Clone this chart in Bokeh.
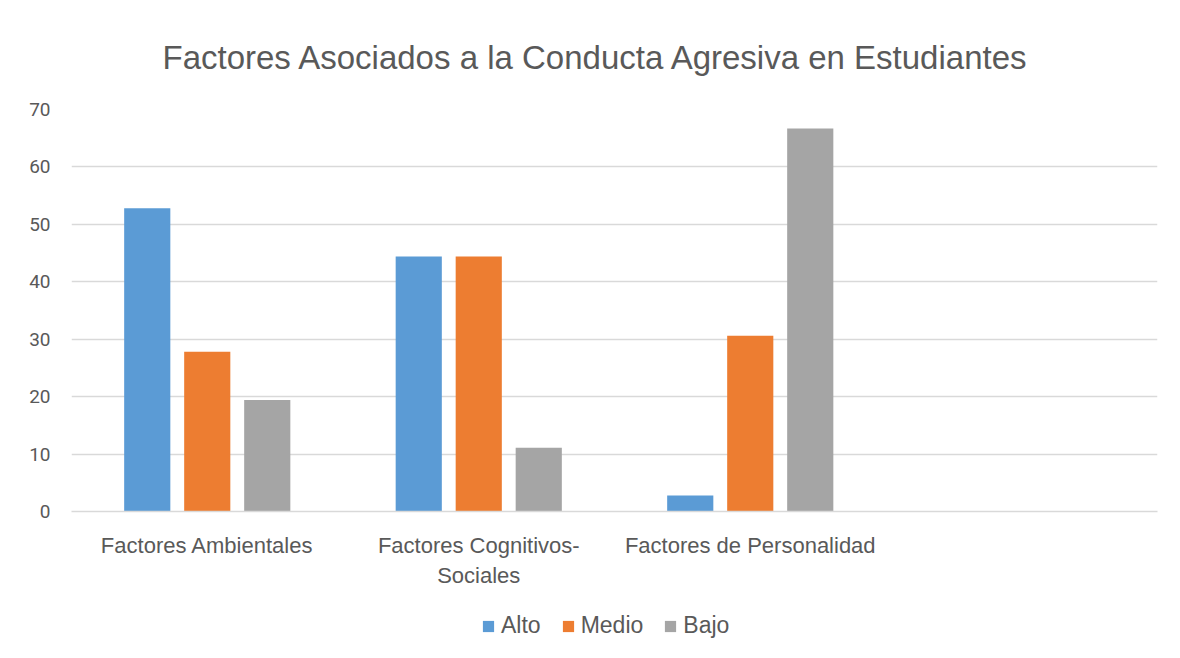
from bokeh.plotting import figure
from bokeh.layouts import column
from bokeh.models import ColumnDataSource, Range1d, FixedTicker, Legend, LegendItem
from bokeh.transform import dodge
from bokeh.embed import file_html
from bokeh.resources import INLINE

categories = ["Factores Ambientales", "Factores Cognitivos-\nSociales", "Factores de Personalidad"]
alto = [52.8, 44.4, 2.8]
medio = [27.8, 44.4, 30.6]
bajo = [19.4, 11.1, 66.7]
series_names = ["Alto", "Medio", "Bajo"]
colors = ["#5B9BD5", "#ED7D31", "#A5A5A5"]
y_ticks = [0, 10, 20, 30, 40, 50, 60, 70]

FONT = "'Liberation Sans', sans-serif"
TXT = "#595959"

src = ColumnDataSource(dict(x=list(range(len(categories))), Alto=alto, Medio=medio, Bajo=bajo))

p = figure(width=1170, height=600, output_backend="svg", toolbar_location=None,
           x_range=Range1d(-0.5, 3.5), y_range=Range1d(0, 70),
           min_border_left=71, min_border_right=13, min_border_top=109, min_border_bottom=89)

p.title.text = "Factores Asociados a la Conducta Agresiva en Estudiantes"
p.title.text_font = FONT
p.title.text_font_size = "33px"
p.title.text_font_style = "normal"
p.title.text_color = TXT
p.title.align = "left"
p.title.offset = 91
p.title.standoff = 68

width = 0.17
offsets = [-0.221, 0.0, 0.221]
for name, col, off in zip(series_names, colors, offsets):
    p.vbar(x=dodge("x", off, range=p.x_range), top=name, width=width, bottom=0,
           source=src, fill_color=col, line_color=None)

p.xaxis.ticker = FixedTicker(ticks=[0, 1, 2])
p.xaxis.major_label_overrides = {i: c for i, c in enumerate(categories)}
p.xaxis.major_label_text_font = FONT
p.xaxis.major_label_text_font_size = "22px"
p.xaxis.major_label_text_color = TXT
p.xaxis.major_label_standoff = 15
p.xaxis.axis_line_color = "#D9D9D9"
p.xaxis.axis_line_width = 1.5
p.xaxis.major_tick_line_color = None
p.xaxis.minor_tick_line_color = None

p.yaxis.ticker = FixedTicker(ticks=y_ticks)
p.yaxis.major_label_text_font = "Roboto"
p.yaxis.major_label_text_font_size = "19px"
p.yaxis.major_label_text_color = TXT
p.yaxis.major_label_standoff = 15
p.yaxis.axis_line_color = None
p.yaxis.major_tick_line_color = None
p.yaxis.minor_tick_line_color = None

p.xgrid.grid_line_color = None
p.ygrid.grid_line_color = "#D9D9D9"
p.ygrid.grid_line_width = 1.5
p.ygrid.ticker = FixedTicker(ticks=y_ticks)

p.outline_line_color = None
p.background_fill_color = "white"
p.border_fill_color = "white"

# legend strip below the chart (its bars lie outside its visible range)
pl = figure(width=1170, height=56, output_backend="svg", toolbar_location=None,
            x_range=Range1d(-0.5, 3.5), y_range=Range1d(1000, 1001),
            x_axis_location=None, y_axis_location=None,
            min_border_left=0, min_border_right=0, min_border_top=0, min_border_bottom=0)
pl.xgrid.grid_line_color = None
pl.ygrid.grid_line_color = None
pl.outline_line_color = None
pl.background_fill_color = "white"
pl.border_fill_color = "white"

items = []
for name, col in zip(series_names, colors):
    r = pl.vbar(x="x", top=name, width=width, bottom=0, source=src, fill_color=col, line_color=None)
    items.append(LegendItem(label=name, renderers=[r]))

legend = Legend(items=items, orientation="horizontal", location=(410, 17),
                label_text_font=FONT, label_text_font_size="23px", label_text_color=TXT,
                glyph_width=14, glyph_height=14, label_standoff=6, spacing=20,
                border_line_color=None, background_fill_alpha=0, margin=0, padding=4)
pl.add_layout(legend, "center")

layout = column(p, pl, spacing=0)
open("out.html", "w").write(file_html(layout, INLINE))
